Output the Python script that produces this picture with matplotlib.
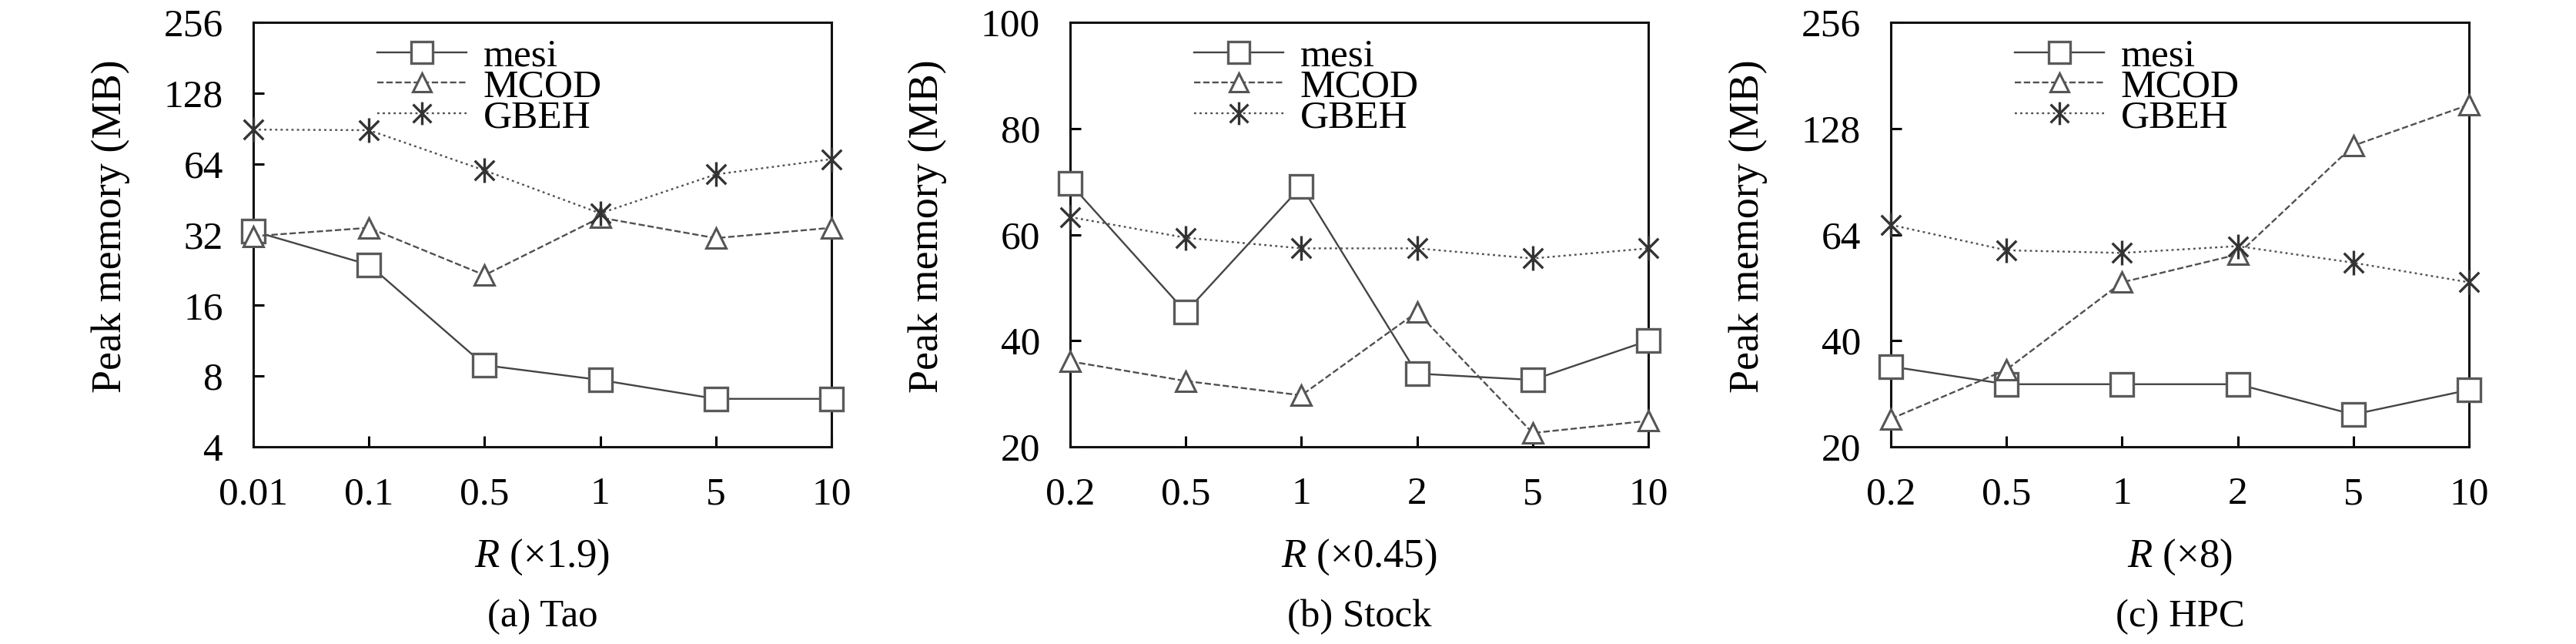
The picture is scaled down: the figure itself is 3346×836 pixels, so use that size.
import numpy as np
import matplotlib
matplotlib.use("Agg")
import matplotlib.pyplot as plt
from matplotlib.path import Path

plt.rcParams['font.family'] = ['Liberation Serif', 'DejaVu Serif']
plt.rcParams['mathtext.fontset'] = 'custom'
plt.rcParams['mathtext.rm'] = 'Liberation Serif'
plt.rcParams['mathtext.it'] = 'Liberation Serif:italic'

# data
tao_x = ['0.01', '0.1', '0.5', '1', '5', '10']
tao_mesi = [33.1, 23.8, 8.9, 7.7, 6.4, 6.4]
tao_mcod = [31.5, 34.2, 21.5, 37.8, 30.9, 34.2]
tao_gbeh = [89.5, 89.0, 60.0, 39.4, 57.7, 67.0]

stock_x = ['0.2', '0.5', '1', '2', '5', '10']
stock_mesi = [69.6, 45.4, 69.1, 33.8, 32.6, 40.0]
stock_mcod = [36.1, 32.4, 29.7, 45.4, 22.6, 24.9]
stock_gbeh = [63.3, 59.4, 57.4, 57.4, 55.5, 57.4]

hpc_x = ['0.2', '0.5', '1', '2', '5', '10']
hpc_mesi = [33.8, 30.1, 30.1, 30.1, 24.7, 29.0]
hpc_mcod = [24.0, 33.1, 51.8, 58.6, 114.4, 149.5]
hpc_gbeh = [68.2, 59.7, 59.0, 60.8, 56.5, 51.8]

tao_ticks = [4, 8, 16, 32, 64, 128, 256]
stock_ticks = [20, 40, 60, 80, 100]
hpc_ticks = [20, 40, 64, 128, 256]

xlabels = [r'$R$ (×1.9)', r'$R$ (×0.45)', r'$R$ (×8)']
captions = ['(a) Tao', '(b) Stock', '(c) HPC']

# asterisk marker: vertical bar plus an X
star = Path([(0, -1), (0, 1), (-0.8, -0.8), (0.8, 0.8), (-0.8, 0.8), (0.8, -0.8)],
            [Path.MOVETO, Path.LINETO, Path.MOVETO, Path.LINETO, Path.MOVETO, Path.LINETO])

FS = 37
fig = plt.figure(figsize=(33.46, 8.36), dpi=100)
lefts = [329 / 3346, 1390 / 3346, 2456 / 3346]
width = 751 / 3346
bottom = 1 - 580 / 836
height = 551 / 836


def hpc_fwd(y):
    y = np.clip(np.asarray(y, dtype=float), 1e-6, None)
    return np.interp(np.log2(y), np.log2(hpc_ticks), np.arange(len(hpc_ticks)))


def hpc_inv(p):
    p = np.asarray(p, dtype=float)
    return 2 ** np.interp(p, np.arange(len(hpc_ticks)), np.log2(hpc_ticks))


panels = [
    (tao_x, tao_mesi, tao_mcod, tao_gbeh, tao_ticks),
    (stock_x, stock_mesi, stock_mcod, stock_gbeh, stock_ticks),
    (hpc_x, hpc_mesi, hpc_mcod, hpc_gbeh, hpc_ticks),
]

for i, (cats, mesi, mcod, gbeh, yt) in enumerate(panels):
    ax = fig.add_axes([lefts[i], bottom, width, height])
    x = np.arange(len(cats))
    ax.plot(x, mesi, color='#444444', lw=1.7, ls='-', marker='s', ms=21,
            mfc='white', mec='#5a5a5a', mew=2.4, clip_on=False, label='mesi', zorder=3)
    ax.plot(x, mcod, color='#505050', lw=1.7, ls=(0, (3.5, 1.5)), marker='^', ms=19,
            mfc='white', mec='#555555', mew=2.2, clip_on=False, label='MCOD', zorder=3)
    ax.plot(x, gbeh, color='#505050', lw=1.7, ls=(0, (1.2, 1.8)), marker=star, ms=23,
            mfc='none', mec='#333333', mew=2.4, clip_on=False, label='GBEH', zorder=3)

    if i == 0:
        ax.set_yscale('log', base=2)
    elif i == 2:
        ax.set_yscale('function', functions=(hpc_fwd, hpc_inv))
    ax.set_ylim(yt[0], yt[-1])
    ax.set_yticks(yt)
    ax.set_yticklabels([str(t) for t in yt])
    ax.yaxis.set_minor_locator(matplotlib.ticker.NullLocator())
    ax.set_xlim(0, len(cats) - 1)
    ax.set_xticks(x)
    ax.set_xticklabels(cats)

    ax.tick_params(direction='in', length=10, width=2.2, labelsize=FS, pad=28)
    for s in ax.spines.values():
        s.set_linewidth(2.2)
        s.set_color('#111111')

    ax.set_ylabel('Peak memory (MB)', fontsize=39)
    ax.yaxis.set_label_coords(-0.213, 0.52)
    ax.set_xlabel(xlabels[i], fontsize=38)
    ax.xaxis.set_label_coords(0.5, -0.213)
    ax.text(0.5, -0.358, captions[i], transform=ax.transAxes, ha='center', va='top',
            fontsize=36.5)

    ax.legend(loc='upper left', bbox_to_anchor=(0.215, 0.962), frameon=False,
              fontsize=FS, handlelength=2.25, handletextpad=0.42, labelspacing=-0.144,
              borderpad=0, borderaxespad=0, markerscale=0.93)

fig.savefig('out.png', dpi=100)
